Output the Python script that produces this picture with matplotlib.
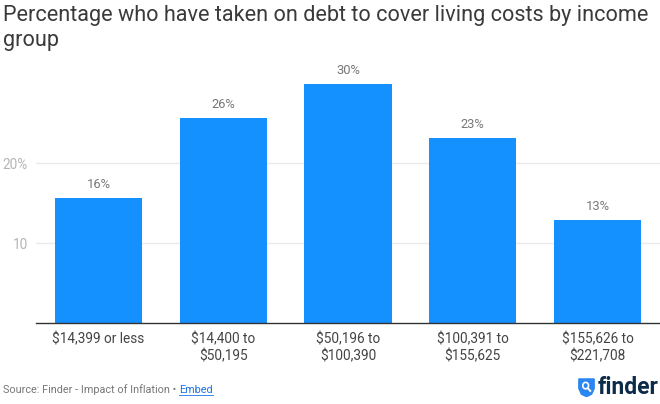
import matplotlib
matplotlib.use("Agg")
import matplotlib.pyplot as plt
from matplotlib.patches import Polygon

plt.rcParams['font.family'] = ['Roboto', 'DejaVu Sans']

categories = ["$14,399 or less", "$14,400 to\n$50,195", "$50,196 to\n$100,390",
              "$100,391 to\n$155,625", "$155,626 to\n$221,708"]
values = [15.7, 25.6, 29.9, 23.1, 12.9]
value_labels = ["16%", "26%", "30%", "23%", "13%"]
ytick_vals = [10, 20]
ytick_labels = ["10", "20%"]

W, H = 660, 404
fig = plt.figure(figsize=(W/100, H/100), dpi=100)
ax = fig.add_axes([36/W, (H-323.3)/H, (W-36)/W, (323.3-60)/H])

x = list(range(len(categories)))
ax.bar(x, values, width=0.70, color="#1590ff", zorder=3)
for xi, v, lab in zip(x, values, value_labels):
    ax.annotate(lab, (xi, v), xytext=(0, 9.8), textcoords="offset points",
                ha="center", va="center", fontsize=9.3, color="#777777")

ax.set_xlim(-0.5, 4.5)
ax.set_ylim(0, 32.9)
ax.set_yticks(ytick_vals)
ax.set_yticklabels(ytick_labels)
ax.set_xticks(x)
ax.set_xticklabels(categories, fontsize=9.8, color="#444444", linespacing=1.3)
ax.tick_params(axis="x", length=0, pad=6)
ax.tick_params(axis="y", length=0, pad=6, labelsize=9.8, labelcolor="#b5b5b5")
ax.grid(axis="y", color="#ebebeb", linewidth=1, zorder=0)
for s in ["top", "right", "left"]:
    ax.spines[s].set_visible(False)
ax.spines["bottom"].set_color("#333333")
ax.spines["bottom"].set_linewidth(1)
ax.spines["bottom"].set_zorder(4)

fig.text(3/W, 1 - 21/H, "Percentage who have taken on debt to cover living costs by income",
         ha="left", va="baseline", fontsize=15.6, color="#3a3a3a")
fig.text(3/W, 1 - 46/H, "group",
         ha="left", va="baseline", fontsize=15.6, color="#3a3a3a")

t1 = fig.text(3/W, 1 - 390/H, "Source: Finder - Impact of Inflation \u2022 ", ha="left", va="center",
              fontsize=7.8, color="#777777")
fig.canvas.draw()
bb = t1.get_window_extent()
emb = fig.text(bb.x1/W, 1 - 390/H, "Embed", ha="left", va="center", fontsize=7.8,
               color="#1a73e8")
fig.canvas.draw()
eb = emb.get_window_extent()
fig.add_artist(plt.Line2D([eb.x0/W, eb.x1/W], [(eb.y0-0.3)/H, (eb.y0-0.3)/H],
                          color="#1a73e8", linewidth=0.6))

# finder logo
fig.text(659/W, 1 - 388/H, "finder", ha="right", va="center", fontsize=16.5, fontweight="bold",
         color="#0b2b48")
logo_ax = fig.add_axes([578/W, (H-397)/H, 17/W, 19/H])
logo_ax.set_xlim(0, 1); logo_ax.set_ylim(0, 1); logo_ax.axis("off")
logo_ax.add_patch(Polygon([[0.05, 0.95], [0.95, 0.95], [0.95, 0.45], [0.8, 0.15], [0.5, 0.02],
                           [0.2, 0.15], [0.05, 0.45]], closed=True, color="#2a86f0"))
logo_ax.add_patch(plt.Circle((0.45, 0.6), 0.17, fill=False, color="white", linewidth=1.2))
logo_ax.plot([0.57, 0.72], [0.47, 0.32], color="white", linewidth=1.4)

fig.savefig("out.png", dpi=100)
